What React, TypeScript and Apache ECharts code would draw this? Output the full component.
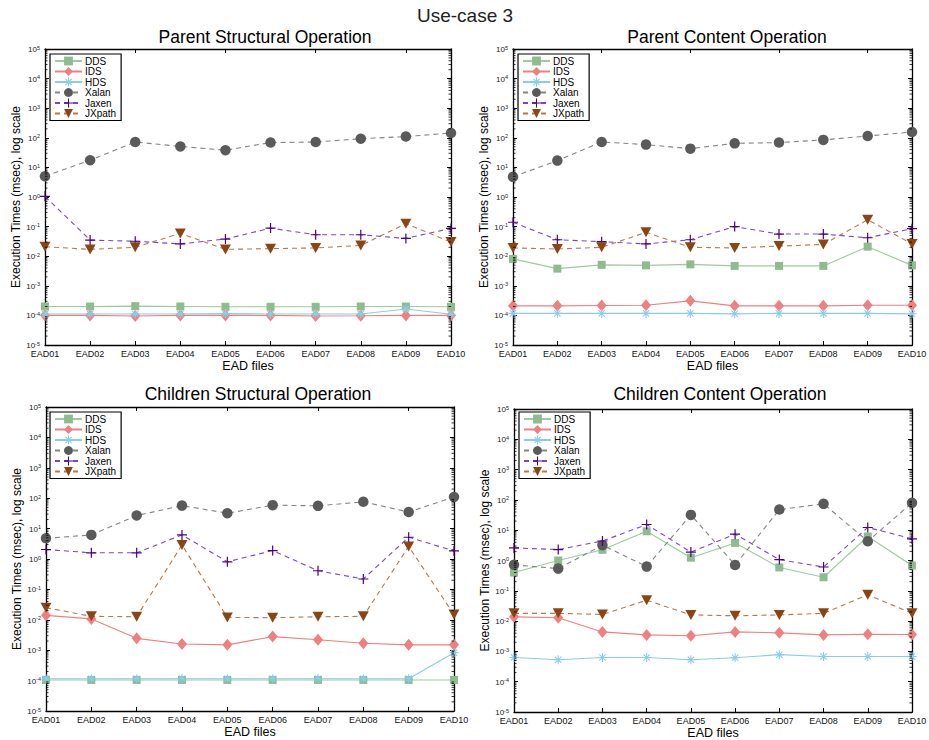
import React, { useEffect, useRef } from "react";
import * as echarts from "echarts";

const categories = ["EAD01", "EAD02", "EAD03", "EAD04", "EAD05", "EAD06", "EAD07", "EAD08", "EAD09", "EAD10"];
const seriesNames = ["DDS", "IDS", "HDS", "Xalan", "Jaxen", "JXpath"];
const panelTitles = [
  "Parent Structural Operation",
  "Parent Content Operation",
  "Children Structural Operation",
  "Children Content Operation",
];

// Panel 1: Parent Structural Operation
const psDDS = [2.0e-4, 2.0e-4, 2.05e-4, 2.0e-4, 1.95e-4, 1.95e-4, 1.95e-4, 2.0e-4, 2.0e-4, 1.95e-4];
const psIDS = [1.0e-4, 1.0e-4, 0.95e-4, 1.0e-4, 1.0e-4, 1.0e-4, 0.95e-4, 0.97e-4, 1.0e-4, 1.0e-4];
const psHDS = [1.12e-4, 1.12e-4, 1.12e-4, 1.12e-4, 1.15e-4, 1.12e-4, 1.12e-4, 1.12e-4, 1.65e-4, 1.1e-4];
const psXalan = [5.0, 17.5, 72, 51, 38, 69, 72, 93, 110, 145];
const psJaxen = [1.05, 0.035, 0.032, 0.026, 0.038, 0.089, 0.053, 0.053, 0.04, 0.087];
const psJXpath = [0.021, 0.017, 0.02, 0.059, 0.017, 0.018, 0.019, 0.023, 0.126, 0.03];

// Panel 2: Parent Content Operation
const pcDDS = [0.0081, 0.0038, 0.0051, 0.0049, 0.0053, 0.0047, 0.0047, 0.0047, 0.021, 0.0049];
const pcIDS = [2.1e-4, 2.1e-4, 2.15e-4, 2.2e-4, 3.1e-4, 2.1e-4, 2.1e-4, 2.1e-4, 2.2e-4, 2.2e-4];
const pcHDS = [1.17e-4, 1.17e-4, 1.17e-4, 1.17e-4, 1.17e-4, 1.13e-4, 1.17e-4, 1.17e-4, 1.17e-4, 1.13e-4];
const pcXalan = [4.8, 17, 72, 59, 43, 65, 69, 85, 115, 157];
const pcJaxen = [0.14, 0.036, 0.031, 0.026, 0.036, 0.1, 0.056, 0.056, 0.042, 0.085];
const pcJXpath = [0.019, 0.0175, 0.02, 0.064, 0.02, 0.019, 0.022, 0.025, 0.17, 0.026];

// Panel 3: Children Structural Operation
const csDDS = [1.05e-4, 1.05e-4, 1.05e-4, 1.05e-4, 1.05e-4, 1.05e-4, 1.05e-4, 1.05e-4, 1.05e-4, 1.05e-4];
const csIDS = [0.014, 0.0107, 0.00245, 0.0016, 0.0015, 0.0028, 0.0022, 0.0017, 0.0015, 0.0015];
const csHDS = [1.15e-4, 1.15e-4, 1.15e-4, 1.15e-4, 1.15e-4, 1.15e-4, 1.15e-4, 1.15e-4, 1.15e-4, 8.3e-4];
const csXalan = [4.8, 6.2, 27, 57, 32, 59, 56, 76, 35, 110];
const csJaxen = [2.05, 1.6, 1.6, 6.2, 0.81, 1.9, 0.41, 0.22, 5.2, 1.85];
const csJXpath = [0.025, 0.013, 0.0126, 2.9, 0.012, 0.0117, 0.0126, 0.013, 2.6, 0.0148];

// Panel 4: Children Content Operation
const ccDDS = [0.4, 1.0, 2.25, 9.2, 1.24, 3.8, 0.59, 0.28, 6.2, 0.68];
const ccIDS = [0.0138, 0.0129, 0.0044, 0.0035, 0.0033, 0.0044, 0.0041, 0.0035, 0.0037, 0.0036];
const ccHDS = [6.3e-4, 5.3e-4, 6.3e-4, 6.3e-4, 5.3e-4, 6.2e-4, 7.8e-4, 6.8e-4, 6.8e-4, 6.8e-4];
const ccXalan = [0.72, 0.54, 3.2, 0.63, 32, 0.71, 48, 74, 4.3, 80];
const ccJaxen = [2.6, 2.3, 4.4, 15.4, 1.9, 7.4, 1.07, 0.61, 12.3, 5.2];
const ccJXpath = [0.018, 0.018, 0.0166, 0.049, 0.016, 0.015, 0.016, 0.018, 0.074, 0.018];

const panelData = [
  [psDDS, psIDS, psHDS, psXalan, psJaxen, psJXpath],
  [pcDDS, pcIDS, pcHDS, pcXalan, pcJaxen, pcJXpath],
  [csDDS, csIDS, csHDS, csXalan, csJaxen, csJXpath],
  [ccDDS, ccIDS, ccHDS, ccXalan, ccJaxen, ccJXpath],
];

const FONT = "'Liberation Sans', Arial, Helvetica, sans-serif";

const PLUS_PATH = "path://M4.4,0H5.6V10H4.4Z M0,4.4H10V5.6H0Z";
const STAR_PATH =
  "path://M4.4,0H5.6V10H4.4Z M0,4.4H10V5.6H0Z M1.92,1.08L8.92,8.08L8.08,8.92L1.08,1.92Z M8.08,1.08L8.92,1.92L1.92,8.92L1.08,8.08Z";

const styles = [
  { line: "#9ccb9c", marker: "#8fbc8f", dash: "solid", symbol: "rect", size: 8, rotate: 0 },
  { line: "#f08080", marker: "#f08080", dash: "solid", symbol: "diamond", size: [10, 12], rotate: 0 },
  { line: "#87ceeb", marker: "#87ceeb", dash: "solid", symbol: STAR_PATH, size: 9, rotate: 0 },
  { line: "#858585", marker: "#5a5a5a", dash: [5, 4], symbol: "circle", size: 10.5, rotate: 0 },
  { line: "#7d45c2", marker: "#4b0082", dash: [5, 4], symbol: PLUS_PATH, size: 10, rotate: 0 },
  { line: "#b37a4c", marker: "#8b4513", dash: [5, 4], symbol: "triangle", size: [11, 10], rotate: 180 },
];

const grids = [
  { left: 45, top: 49, width: 406, height: 296 },
  { left: 513, top: 49, width: 399, height: 296 },
  { left: 46, top: 407, width: 408, height: 304 },
  { left: 514, top: 409, width: 398, height: 303 },
];
const titlePos = [
  { x: 265, y: 37 },
  { x: 727, y: 37 },
  { x: 258, y: 394 },
  { x: 720, y: 394 },
];
const legendPos = [
  { left: 50, top: 54 },
  { left: 518, top: 54 },
  { left: 50, top: 412 },
  { left: 519, top: 412 },
];

export default function App() {
  const ref = useRef<HTMLDivElement>(null);
  useEffect(() => {
    document.body.style.margin = "0";
    if (!ref.current) return;
    const chart = echarts.init(ref.current, undefined, { renderer: "svg" });

    const minorVals: number[] = [];
    for (let e = -5; e < 5; e++) {
      for (let m = 2; m <= 9; m++) minorVals.push(m * Math.pow(10, e));
    }

    const xAxes: any[] = [];
    const yAxes: any[] = [];
    const series: any[] = [];
    const legends: any[] = [];

    grids.forEach((g, gi) => {
      xAxes.push({
        type: "category",
        gridIndex: gi,
        data: categories,
        boundaryGap: false,
        position: "bottom",
        name: "EAD files",
        nameLocation: "middle",
        nameGap: 14,
        nameTextStyle: { fontFamily: FONT, fontSize: 12.5, color: "#000" },
        axisLine: { show: true, lineStyle: { color: "#000", width: 1.3 } },
        axisTick: { show: true, inside: true, length: 4, lineStyle: { color: "#000" } },
        axisLabel: { fontFamily: FONT, fontSize: 9, color: "#111", margin: 4, interval: 0 },
        splitLine: { show: false },
      });
      xAxes.push({
        type: "category",
        gridIndex: gi,
        data: categories,
        boundaryGap: false,
        position: "top",
        axisLine: { show: true, lineStyle: { color: "#000", width: 1.3 } },
        axisTick: { show: true, inside: true, length: 4, lineStyle: { color: "#000" } },
        axisLabel: { show: false },
        splitLine: { show: false },
      });
      yAxes.push({
        type: "log",
        logBase: 10,
        gridIndex: gi,
        min: 1e-5,
        max: 1e5,
        interval: 1,
        position: "left",
        name: "Execution Times (msec), log scale",
        nameLocation: "middle",
        nameGap: 23,
        nameTextStyle: { fontFamily: FONT, fontSize: 12, color: "#000" },
        axisLine: { show: true, lineStyle: { color: "#000", width: 1.3 } },
        axisTick: { show: true, inside: true, length: 4, lineStyle: { color: "#000" } },
        axisLabel: {
          margin: 5,
          formatter: (v: number) => {
            const e = Math.round(Math.log10(v));
            return "{b|10}{s|" + e + "}";
          },
          rich: {
            b: { fontFamily: FONT, fontSize: 8, color: "#222", lineHeight: 9, verticalAlign: "bottom" },
            s: { fontFamily: FONT, fontSize: 5.5, color: "#222", lineHeight: 9, verticalAlign: "top" },
          },
        },
        splitLine: { show: false },
      });
      yAxes.push({
        type: "log",
        logBase: 10,
        gridIndex: gi,
        min: 1e-5,
        max: 1e5,
        interval: 1,
        position: "right",
        axisLine: { show: true, lineStyle: { color: "#000", width: 1.3 } },
        axisTick: { show: true, inside: true, length: 4, lineStyle: { color: "#000" } },
        axisLabel: { show: false },
        splitLine: { show: false },
      });

      panelData[gi].forEach((vals, si) => {
        const st = styles[si];
        series.push({
          type: "line",
          name: seriesNames[si],
          xAxisIndex: gi * 2,
          yAxisIndex: gi * 2,
          data: vals,
          symbol: st.symbol,
          symbolSize: st.size,
          symbolRotate: st.rotate,
          showAllSymbol: true,
          lineStyle: { color: st.line, width: 1.1, type: st.dash },
          itemStyle: { color: st.marker, borderWidth: 0 },
          emphasis: { disabled: true },
          z: 3 + si,
        });
      });

      series.push({
        type: "custom",
        name: "minorTicks" + gi,
        xAxisIndex: gi * 2,
        yAxisIndex: gi * 2,
        silent: true,
        clip: false,
        encode: { x: 0, y: 1 },
        data: minorVals.map((v) => [0, v]),
        renderItem: (params: any, api: any) => {
          const cs = params.coordSys;
          const y = api.coord([0, api.value(1)])[1];
          return {
            type: "group",
            children: [
              { type: "line", shape: { x1: cs.x, y1: y, x2: cs.x + 2.5, y2: y }, style: { stroke: "#000", lineWidth: 0.8 } },
              {
                type: "line",
                shape: { x1: cs.x + cs.width, y1: y, x2: cs.x + cs.width - 2.5, y2: y },
                style: { stroke: "#000", lineWidth: 0.8 },
              },
            ],
          };
        },
        z: 10,
      });

      legends.push({
        data: seriesNames,
        orient: "vertical",
        left: legendPos[gi].left,
        top: legendPos[gi].top,
        itemWidth: 27,
        itemHeight: 11,
        itemGap: 0.5,
        padding: [2, 5, 2, 4],
        borderColor: "#000",
        borderWidth: 1.2,
        borderRadius: 0,
        backgroundColor: "#fff",
        selectedMode: false,
        textStyle: { fontFamily: FONT, fontSize: 10, color: "#000", lineHeight: 10, padding: [0, 0, 0, -2] },
        z: 20,
      });
    });

    const graphics: any[] = [
      {
        type: "text",
        x: 465,
        y: 15,
        style: {
          text: "Use-case 3",
          textAlign: "center",
          textVerticalAlign: "middle",
          fontFamily: FONT,
          fontSize: 19,
          fill: "#222",
        },
      },
    ];
    titlePos.forEach((p, i) => {
      graphics.push({
        type: "text",
        x: p.x,
        y: p.y,
        style: {
          text: panelTitles[i],
          textAlign: "center",
          textVerticalAlign: "middle",
          fontFamily: FONT,
          fontSize: 17.5,
          fill: "#000",
        },
      });
    });

    chart.setOption({
      animation: false,
      backgroundColor: "#fff",
      grid: grids.map((g) => ({ ...g, containLabel: false, outerBoundsMode: "none", show: false })),
      xAxis: xAxes,
      yAxis: yAxes,
      legend: legends,
      series,
      graphic: graphics,
    });

    return () => chart.dispose();
  }, []);

  return <div ref={ref} style={{ width: 929, height: 740 }} />;
}
